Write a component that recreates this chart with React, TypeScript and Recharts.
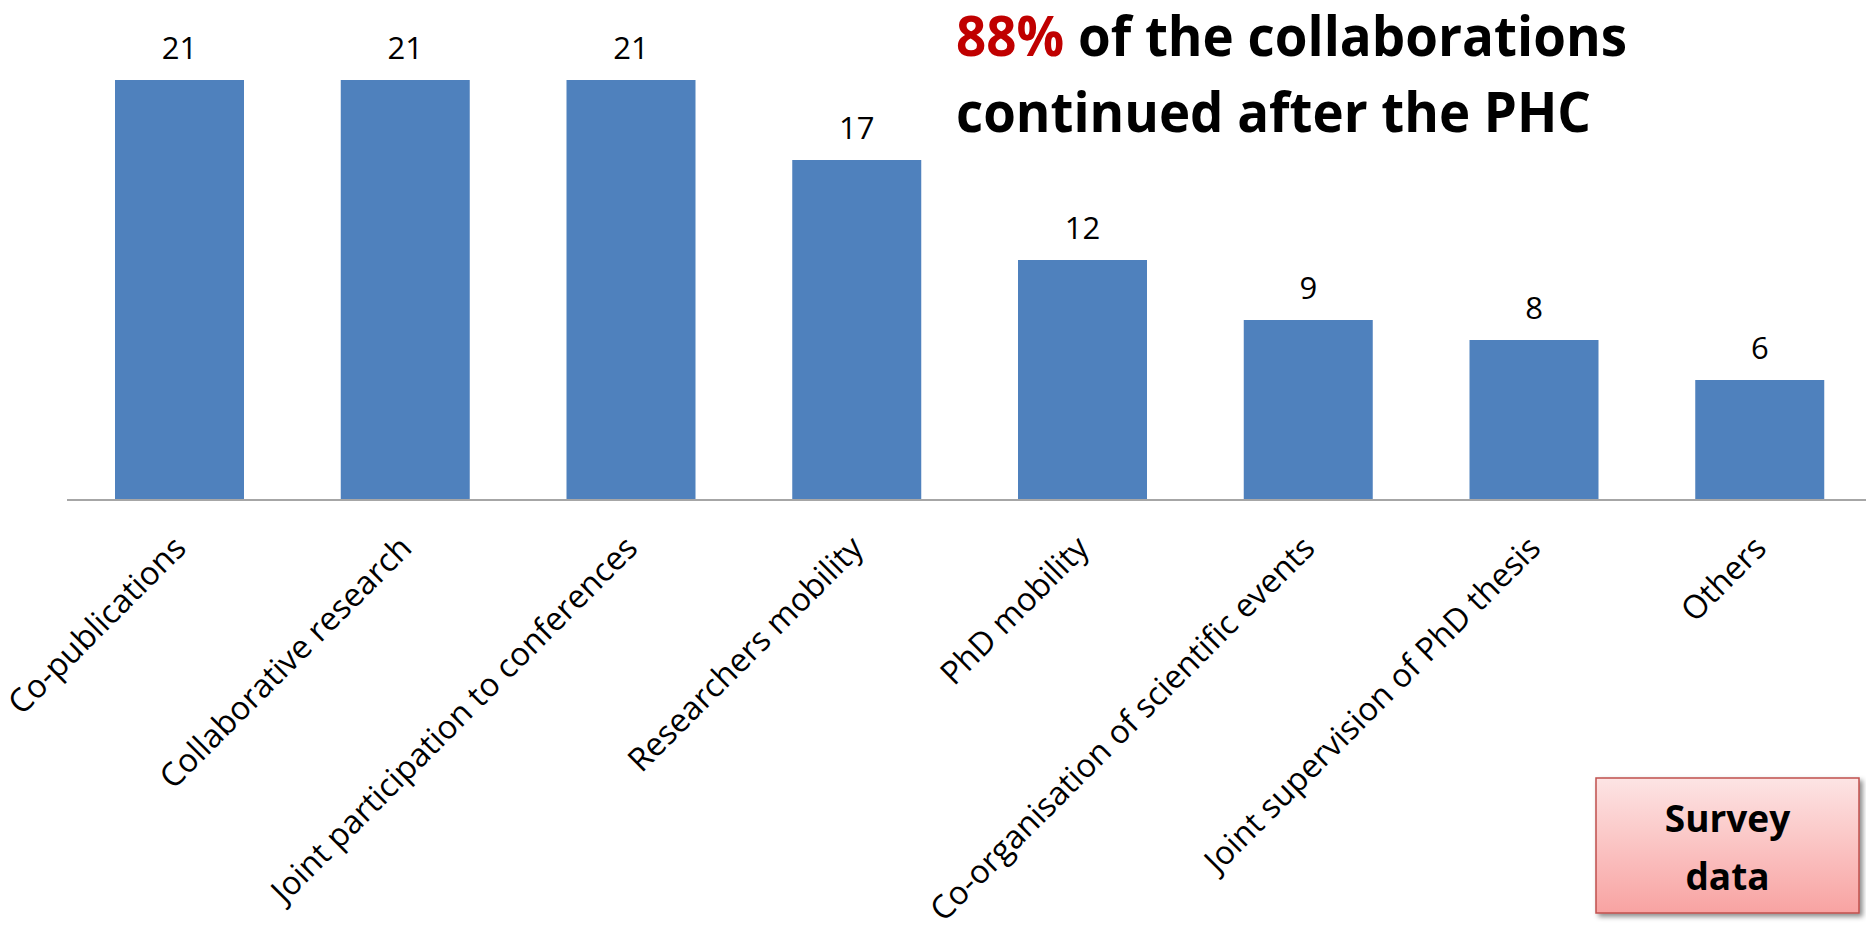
import React from "react";
import { BarChart, Bar, XAxis, YAxis, LabelList } from "recharts";

const categories = [
  "Co-publications",
  "Collaborative research",
  "Joint participation to conferences",
  "Researchers mobility",
  "PhD mobility",
  "Co-organisation of scientific events",
  "Joint supervision of PhD thesis",
  "Others",
];
const counts = [21, 21, 21, 17, 12, 9, 8, 6];
const yDomain = [0, 25];
const titleHighlight = "88%";
const titleLine1Rest = " of the collaborations";
const titleLine2 = "continued after the PHC";
const badgeLines = ["Survey", "data"];

const data = categories.map((name, i) => ({ name, value: counts[i] }));

const FONT = "'Open Sans', 'Noto Sans', sans-serif";

const CategoryTick = (props: any) => {
  const { x, y, payload } = props;
  return (
    <g transform={`translate(${x + 8},${y + 50})`}>
      <text
        x={0}
        y={0}
        textAnchor="end"
        transform="rotate(-45)"
        fontFamily={FONT}
        fontSize={32.5}
        fill="#000"
      >
        {payload.value}
      </text>
    </g>
  );
};

const ValueLabel = (props: any) => {
  const { x, y, width, value } = props;
  return (
    <text
      x={x + width / 2}
      y={y - 21}
      textAnchor="middle"
      fontFamily={FONT}
      fontSize={31}
      fill="#000"
    >
      {value}
    </text>
  );
};

export default function App() {
  return (
    <div
      style={{
        position: "absolute",
        left: 0,
        top: 0,
        width: 1866,
        height: 927,
        overflow: "hidden",
        background: "#fff",
      }}
    >
      <BarChart
        width={1873}
        height={927}
        data={data}
        margin={{ top: 0, right: 0, left: 67, bottom: 0 }}
      >
        <YAxis hide domain={yDomain} />
        <XAxis
          dataKey="name"
          height={427}
          interval={0}
          tickLine={false}
          tickSize={0}
          tickMargin={0}
          axisLine={{ stroke: "#a6a6a6", strokeWidth: 2 }}
          tick={<CategoryTick />}
        />
        <Bar dataKey="value" fill="#4f81bd" barSize={129} isAnimationActive={false}>
          <LabelList dataKey="value" content={<ValueLabel />} />
        </Bar>
      </BarChart>
      <svg
        width={1866}
        height={927}
        style={{ position: "absolute", left: 0, top: 0, pointerEvents: "none" }}
      >
        <defs>
          <linearGradient id="badgeGrad" x1="0" y1="0" x2="0" y2="1">
            <stop offset="0%" stopColor="#fde4e4" />
            <stop offset="100%" stopColor="#f8a3a2" />
          </linearGradient>
          <filter id="badgeShadow" x="-10%" y="-10%" width="130%" height="130%">
            <feDropShadow dx="3" dy="3" stdDeviation="2.5" floodColor="#000" floodOpacity="0.45" />
          </filter>
        </defs>
        <text
          x={956}
          y={56}
          fontFamily={FONT}
          fontWeight={700}
          fontSize={55}
          fill="#000"
          textLength={671}
          lengthAdjust="spacingAndGlyphs"
        >
          <tspan fill="#c00000">{titleHighlight}</tspan>
          {titleLine1Rest}
        </text>
        <text
          x={956}
          y={132}
          fontFamily={FONT}
          fontWeight={700}
          fontSize={55}
          fill="#000"
          textLength={635}
          lengthAdjust="spacingAndGlyphs"
        >
          {titleLine2}
        </text>
        <rect
          x={1596}
          y={778}
          width={263}
          height={135}
          fill="url(#badgeGrad)"
          stroke="#c0504d"
          strokeWidth={1.5}
          filter="url(#badgeShadow)"
        />
        <text x={1727.5} y={832} textAnchor="middle" fontFamily={FONT} fontWeight={700} fontSize={37} fill="#000">
          {badgeLines[0]}
        </text>
        <text x={1727.5} y={890} textAnchor="middle" fontFamily={FONT} fontWeight={700} fontSize={37} fill="#000">
          {badgeLines[1]}
        </text>
      </svg>
    </div>
  );
}
